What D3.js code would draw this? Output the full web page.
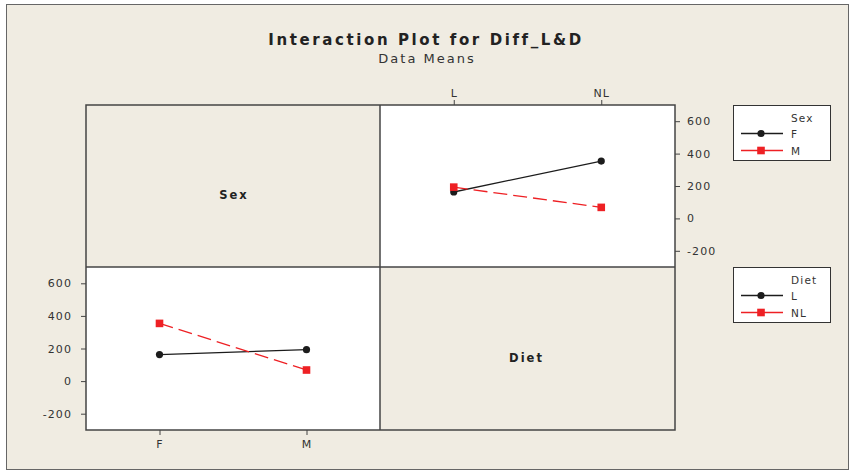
<!DOCTYPE html>
<html>
<head>
<meta charset="utf-8">
<script src="https://cdn.jsdelivr.net/npm/d3@7"></script>
<style>
  body { margin: 0; background: #fff; }
  svg { display: block; font-family: "DejaVu Sans", Verdana, sans-serif; }
</style>
</head>
<body>
<svg id="chart" width="851" height="471"></svg>
<script>
// levels of the two factors
const sexLevels = ['F', 'M'];
const dietLevels = ['L', 'NL'];
// cell means of Diff_L&D
const meanL = [163, 193];   // Diet L, for Sex F, M
const meanNL = [354, 68];   // Diet NL, for Sex F, M
const yTicks = [-200, 0, 200, 400, 600];

const bg = '#f0ece2';
const black = '#1c1c1c';
const red = '#ee2024';

const svg = d3.select('#chart');

// outer frame
svg.append('rect').attr('x', 6.5).attr('y', 4.5).attr('width', 842).attr('height', 465)
    .attr('fill', bg).attr('stroke', '#666').attr('stroke-width', 1);

// titles
svg.append('text').attr('x', 426).attr('y', 45).attr('text-anchor', 'middle')
    .attr('font-size', 15).attr('font-weight', 'bold').attr('letter-spacing', 2.6)
    .attr('fill', '#222').text('Interaction Plot for Diff_L&D');
svg.append('text').attr('x', 427).attr('y', 63).attr('text-anchor', 'middle')
    .attr('font-size', 13).attr('letter-spacing', 2)
    .attr('fill', '#333').text('Data Means');

// grid of panels
const x0 = 86, x1 = 380, x2 = 675;
const y0 = 105, y1 = 267, y2 = 430;

const yTop = d3.scaleLinear().domain([-300, 700]).range([y1, y0]);
const yBot = d3.scaleLinear().domain([-300, 700]).range([y2, y1]);
const xDiet = d3.scalePoint().domain(dietLevels).range([x1, x2]).padding(0.5);
const xSex = d3.scalePoint().domain(sexLevels).range([x0, x1]).padding(0.5);

// panel backgrounds
svg.append('rect').attr('x', x0).attr('y', y0).attr('width', x1 - x0).attr('height', y1 - y0).attr('fill', bg);
svg.append('rect').attr('x', x1).attr('y', y0).attr('width', x2 - x1).attr('height', y1 - y0).attr('fill', '#fff');
svg.append('rect').attr('x', x0).attr('y', y1).attr('width', x1 - x0).attr('height', y2 - y1).attr('fill', '#fff');
svg.append('rect').attr('x', x1).attr('y', y1).attr('width', x2 - x1).attr('height', y2 - y1).attr('fill', bg);

// axes
function styleAxis(g) {
    g.select('.domain').remove();
    g.selectAll('.tick line').attr('stroke', '#444');
    g.selectAll('.tick text').attr('fill', '#333').attr('font-size', 11)
        .attr('letter-spacing', 1.1).attr('font-family', '"DejaVu Sans", Verdana, sans-serif');
}
const fmt = d => String(d);  // plain hyphen for negatives

svg.append('g').attr('transform', `translate(0,${y0})`)
    .call(d3.axisTop(xDiet).tickSize(5).tickPadding(3)).call(styleAxis);
svg.append('g').attr('transform', `translate(${x2},0)`)
    .call(d3.axisRight(yTop).tickValues(yTicks).tickFormat(fmt).tickSize(5).tickPadding(7)).call(styleAxis);
svg.append('g').attr('transform', `translate(0,${y2})`)
    .call(d3.axisBottom(xSex).tickSize(5).tickPadding(5)).call(styleAxis);
svg.append('g').attr('transform', `translate(${x0},0)`)
    .call(d3.axisLeft(yBot).tickValues(yTicks).tickFormat(fmt).tickSize(5).tickPadding(9)).call(styleAxis);

// panel labels
svg.append('text').attr('x', (x0 + x1) / 2 + 1).attr('y', (y0 + y1) / 2 + 13).attr('text-anchor', 'middle')
    .attr('font-size', 11.5).attr('font-weight', 'bold').attr('letter-spacing', 2)
    .attr('fill', '#222').text('Sex');
svg.append('text').attr('x', (x1 + x2) / 2 - 1).attr('y', (y1 + y2) / 2 + 13).attr('text-anchor', 'middle')
    .attr('font-size', 11.5).attr('font-weight', 'bold').attr('letter-spacing', 2)
    .attr('fill', '#222').text('Diet');

// series drawing
function drawSeries(xs, ys, levels, vals, color, dashed, marker) {
    const pts = levels.map((lv, i) => [xs(lv), ys(vals[i])]);
    svg.append('path').attr('d', d3.line()(pts)).attr('fill', 'none')
        .attr('stroke', color).attr('stroke-width', 1.3)
        .attr('stroke-dasharray', dashed ? '14,6' : null);
    pts.forEach(p => drawMarker(p[0], p[1], color, marker));
}

function drawMarker(x, y, color, marker) {
    if (marker === 'circle') {
        svg.append('circle').attr('cx', x).attr('cy', y).attr('r', 3.6).attr('fill', color);
    } else {
        svg.append('rect').attr('x', x - 3.8).attr('y', y - 3.8).attr('width', 7.6).attr('height', 7.6).attr('fill', color);
    }
}

// upper right: x = Diet, traced by Sex
drawSeries(xDiet, yTop, dietLevels, [meanL[0], meanNL[0]], black, false, 'circle');
drawSeries(xDiet, yTop, dietLevels, [meanL[1], meanNL[1]], red, true, 'square');

// lower left: x = Sex, traced by Diet
drawSeries(xSex, yBot, sexLevels, meanL, black, false, 'circle');
drawSeries(xSex, yBot, sexLevels, meanNL, red, true, 'square');

// panel borders
svg.append('rect').attr('x', x0).attr('y', y0).attr('width', x2 - x0).attr('height', y2 - y0)
    .attr('fill', 'none').attr('stroke', '#444').attr('stroke-width', 1.5);
svg.append('line').attr('x1', x1).attr('x2', x1).attr('y1', y0).attr('y2', y2)
    .attr('stroke', '#444').attr('stroke-width', 1.5);
svg.append('line').attr('x1', x0).attr('x2', x2).attr('y1', y1).attr('y2', y1)
    .attr('stroke', '#444').attr('stroke-width', 1.5);

// legends
function legend(top, title, labels) {
    const g = svg.append('g').attr('transform', `translate(733,${top})`);
    g.append('rect').attr('x', 0.5).attr('y', 0.5).attr('width', 97).attr('height', 55)
        .attr('fill', '#fff').attr('stroke', '#333').attr('stroke-width', 1);
    g.append('text').attr('x', 58).attr('y', 17).attr('font-size', 10.5).attr('letter-spacing', 1.2)
        .attr('fill', '#333').text(title);
    const colors = [black, red];
    const markers = ['circle', 'square'];
    labels.forEach((lab, i) => {
        const yy = top + 28.5 + i * 17;
        svg.append('line').attr('x1', 741).attr('x2', 783).attr('y1', yy).attr('y2', yy)
            .attr('stroke', colors[i]).attr('stroke-width', 1.3);
        drawMarker(761, yy, colors[i], markers[i]);
        g.append('text').attr('x', 58).attr('y', 28.5 + i * 17 + 4).attr('font-size', 10.5)
            .attr('letter-spacing', 1.2).attr('fill', '#333').text(lab);
    });
}
legend(105, 'Sex', sexLevels);
legend(267, 'Diet', dietLevels);
</script>
</body>
</html>
